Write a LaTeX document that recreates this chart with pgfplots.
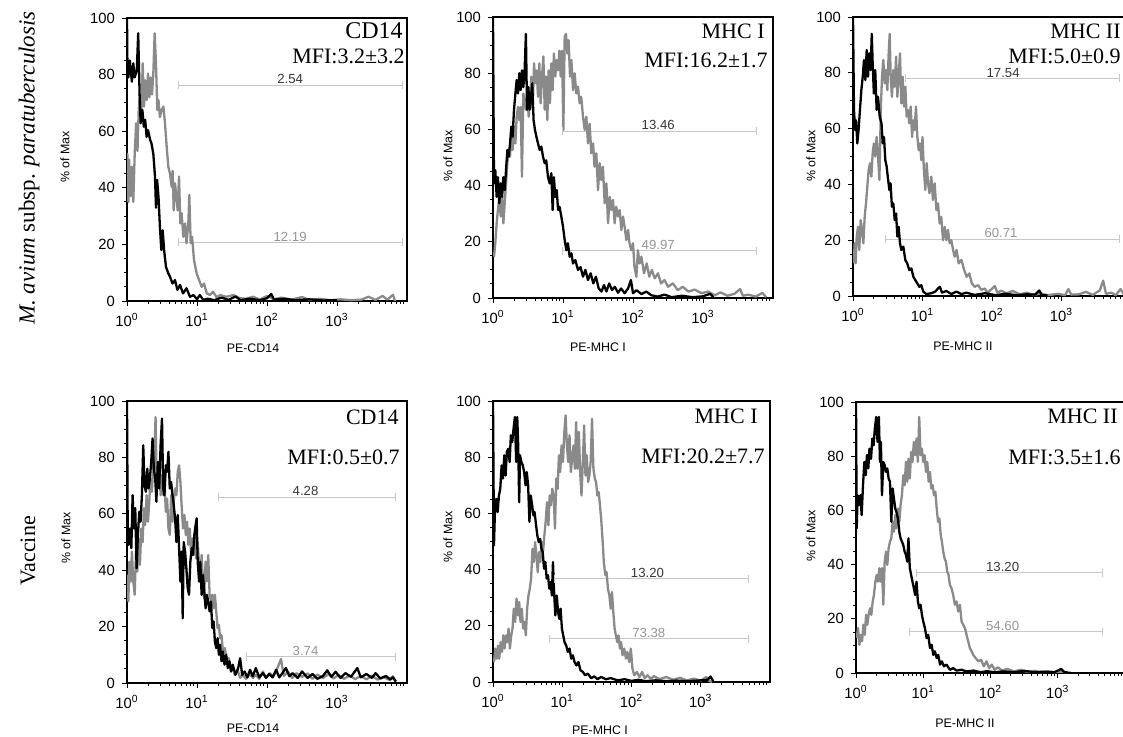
\documentclass[border=0pt]{standalone}
\usepackage{fontspec}
\setmainfont{Liberation Serif}
\newfontfamily\arial{Liberation Sans}
\usepackage{pgfplots}
\usepackage{pgfplotstable}
\pgfplotsset{compat=1.18}

\definecolor{histgray}{RGB}{138,138,138}
\definecolor{gatecol}{RGB}{200,200,200}
\definecolor{gatedark}{RGB}{55,55,55}
\definecolor{gatelight}{RGB}{150,150,150}

\newcommand{\ttl}{\fontsize{11}{13}\selectfont}
\newcommand{\axf}{\arial\fontsize{6.2}{7}\selectfont}
\newcommand{\gatef}{\arial\fontsize{6.6}{7}\selectfont}
\newcommand{\tickf}{\arial\fontsize{7.4}{8}\selectfont}

% common look of the six histograms
\pgfplotsset{
  scale only axis,
  xmin=1, xmax=10000,
  ymin=0, ymax=100,
  xtick={1,10,100,1000},
  xticklabels={10\textsuperscript{0},10\textsuperscript{1},10\textsuperscript{2},10\textsuperscript{3}},
  minor xtick={2,3,4,5,6,7,8,9,20,30,40,50,60,70,80,90,200,300,400,500,600,700,800,900,2000,3000,4000,5000,6000,7000,8000,9000},
  ytick={0,20,40,60,80,100},
  minor ytick={5,10,15,25,30,35,45,50,55,65,70,75,85,90,95},
  tick pos=left, tick align=outside,
  major tick length=2.5pt, minor tick length=1.5pt,
  tick style={black, line width=0.5pt},
  axis line style={line width=0.6pt},
  tick label style={font=\tickf},
  yticklabel style={/pgf/number format/assume math mode=true},
}
\tikzset{
  kcurve/.style={black, line width=1.15pt, line join=round},
  gcurve/.style={histgray, line width=1.15pt, line join=round},
  gate/.style={gatecol, line width=0.4pt, mark=|, mark size=2pt, mark options={gatecol, line width=0.4pt}},
}

% M. avium paratb, CD14
\pgfplotstableread{
d v
0 100
0.005 86
0.02 79
0.04 85
0.07 77.5
0.09 84
0.11 79
0.14 81.6
0.16 94.6
0.18 73
0.195 62.8
0.22 67.5
0.24 61.6
0.26 64
0.28 58
0.30 60.4
0.33 57
0.35 55.7
0.376 52
0.40 44
0.414 33
0.43 42.8
0.45 36.9
0.47 26.3
0.49 18
0.51 25
0.53 18
0.557 12
0.59 9.8
0.614 8.6
0.65 6.2
0.686 7.4
0.72 3.9
0.757 5.7
0.80 2.7
0.85 4.5
0.90 1.5
0.95 2.1
1.0 0.6
1.04 2.1
1.09 0.4
1.15 0.8
1.25 0.3
1.35 1.2
1.45 0.4
1.55 1.6
1.62 0.3
1.75 0.8
1.9 0.3
2.0 1.0
2.06 2.5
2.1 0.5
2.25 0.8
2.4 0.3
2.6 0.6
2.8 0.2
3.0 0.3
}\mapCDk
\pgfplotstableread{
d v
0 44
0.005 52
0.02 35
0.03 50
0.05 37
0.07 47.5
0.09 35
0.11 52
0.13 62.8
0.15 53
0.167 67.5
0.186 73
0.205 65
0.224 84
0.243 68.7
0.26 78
0.28 71
0.30 80.4
0.32 72
0.338 79
0.357 73
0.376 80.4
0.395 94.6
0.414 84
0.433 67.5
0.45 71
0.47 65
0.495 67.5
0.52 68.7
0.543 62.8
0.567 54.5
0.59 47.5
0.614 45
0.638 40.4
0.652 46
0.667 32
0.686 41.6
0.705 37
0.724 32
0.743 44
0.762 27.4
0.78 31
0.805 22.7
0.83 27.4
0.85 20.4
0.876 27.4
0.89 37.5
0.91 20.4
0.93 22.7
0.957 14.5
0.995 9.8
1.03 7.4
1.067 5
1.10 6.2
1.14 2.7
1.186 2.1
1.23 3.3
1.28 1.3
1.33 2.1
1.42 1.5
1.52 2.1
1.61 1
1.7 0.8
1.8 1.5
1.9 0.5
2.0 1.8
2.1 0.6
2.2 1.2
2.35 0.5
2.5 1.4
2.6 0.4
2.75 0.8
2.9 0.3
3.05 0.6
3.2 0.3
3.35 0.5
3.45 1.5
3.55 0.4
3.65 1.8
3.72 0.5
3.8 2.2
3.83 0
}\mapCDg

% M. avium paratb, MHC I
\pgfplotstableread{
d v
0 100
0.014 40.8
0.033 45.5
0.052 36
0.07 43
0.09 33.7
0.11 40.8
0.13 36
0.148 43
0.167 38.4
0.186 45.5
0.205 52.7
0.224 50.3
0.243 55
0.262 61
0.28 57.4
0.30 67
0.32 72.8
0.338 77.6
0.357 72.8
0.376 80
0.395 74
0.414 81
0.433 75
0.45 80
0.47 94
0.486 67
0.505 75
0.524 67
0.543 71.6
0.56 76.4
0.58 63.3
0.60 59.8
0.62 57.4
0.643 55
0.667 52.7
0.69 53.9
0.714 50.3
0.738 48
0.76 49
0.786 43
0.81 40.8
0.833 44.4
0.852 31.3
0.87 43
0.89 36
0.91 38.4
0.93 31.3
0.95 32.5
0.976 29
1.0 25.4
1.024 20.6
1.048 17
1.07 19.5
1.095 14.7
1.12 15.9
1.143 12.3
1.176 13.5
1.214 10
1.25 11
1.286 7.6
1.32 10
1.357 6.4
1.395 8.8
1.433 5.2
1.47 7.6
1.51 3.4
1.55 2.3
1.586 4.6
1.62 2.3
1.66 5.2
1.70 2.8
1.74 4
1.786 1.9
1.83 3.4
1.88 1.7
1.93 3.4
1.97 6.4
2.0 1.7
2.05 2.8
2.12 1.4
2.19 2.3
2.26 1
2.35 0.5
2.45 1.2
2.55 0.3
2.7 0.8
2.85 0.3
3.0 0.6
3.1 1.5
3.15 0.2
}\mapMHCIk
\pgfplotstableread{
d v
0.014 14.7
0.033 19.5
0.052 26.6
0.07 31.3
0.09 36
0.11 29
0.13 36
0.148 26.6
0.167 33.7
0.186 40.8
0.205 48
0.224 52.7
0.243 50.3
0.262 57.4
0.28 52.7
0.30 61
0.32 55
0.338 64.5
0.357 68
0.376 63.3
0.395 68
0.414 43.2
0.433 72.8
0.45 70.5
0.47 67
0.49 71.6
0.51 64.5
0.53 70.5
0.548 78.8
0.567 67
0.586 83.5
0.605 76.4
0.624 81
0.643 71.6
0.662 83.5
0.68 69.3
0.70 78.8
0.72 86
0.738 67
0.757 78.8
0.776 63.3
0.795 81
0.814 69.3
0.833 83.5
0.852 74
0.87 87
0.89 78.8
0.91 84.7
0.93 81
0.948 88
0.967 78.8
0.986 88
1.005 59.8
1.024 93
1.043 94
1.062 87
1.08 91.8
1.10 78.8
1.12 84.7
1.143 74
1.167 80
1.19 72.8
1.214 75.2
1.238 69.3
1.26 71.6
1.286 64.5
1.31 59.8
1.333 64.5
1.357 55
1.38 62
1.405 51.5
1.43 55
1.45 46.7
1.476 51.5
1.50 38.4
1.524 48
1.548 42
1.57 46.7
1.595 33.7
1.62 40.8
1.643 26.6
1.667 36
1.69 31.3
1.714 34.9
1.738 26.6
1.76 32.5
1.786 29
1.81 31.3
1.833 24.2
1.857 29
1.88 25.4
1.905 20.6
1.93 24.2
1.95 19.5
1.976 17
2.0 19.5
2.02 11.2
2.048 7.6
2.07 17
2.095 12.3
2.12 14.7
2.157 8.8
2.195 12.3
2.233 7.6
2.27 10
2.31 7
2.357 8.8
2.40 5.2
2.45 6.4
2.50 4
2.57 5.2
2.64 2.8
2.71 4
2.79 2.3
2.88 3
2.98 1.7
3.07 2.3
3.17 1
3.25 2
3.35 0.8
3.45 1.5
3.53 3.2
3.57 0.8
3.65 1.2
3.75 0.5
3.85 1.8
3.9 0.3
}\mapMHCIg

% M. avium paratb, MHC II
\pgfplotstableread{
d v
0 100
0.014 66.7
0.03 59.5
0.043 63
0.062 54.7
0.08 59.5
0.10 66.7
0.12 73.8
0.14 78.6
0.158 84.6
0.177 77.4
0.197 88.2
0.216 78.6
0.235 87
0.254 81
0.27 94
0.283 83.4
0.30 72.6
0.32 81
0.34 66.7
0.36 71.4
0.384 64.3
0.41 61.9
0.427 54.7
0.446 57
0.465 48.7
0.484 46.4
0.50 42.8
0.523 38
0.54 40.4
0.56 32
0.58 33.2
0.60 27.2
0.62 29.6
0.638 21.3
0.657 24.8
0.676 18.9
0.695 16.5
0.724 17.7
0.753 12.9
0.78 11.7
0.81 9.3
0.84 9.9
0.868 6.9
0.897 5.7
0.926 4.5
0.954 3.3
0.983 3.9
1.01 1.6
1.055 0.7
1.127 1
1.185 1.6
1.223 2.7
1.25 3.3
1.28 1.2
1.343 1.8
1.415 0.7
1.487 1.6
1.56 0.7
1.63 1.2
1.75 0.4
1.9 1.0
2.05 0.3
2.2 0.8
2.35 0.3
2.5 0.6
2.62 0.5
2.68 2.0
2.72 0.3
2.8 0.2
}\mapMHCIIk
\pgfplotstableread{
d v
0.01 11.7
0.024 18.9
0.038 11.7
0.053 21.3
0.072 24.8
0.09 16.5
0.11 27.2
0.13 23.7
0.149 18.9
0.168 28.4
0.187 33.2
0.206 39.2
0.225 45.2
0.245 47.6
0.264 42.8
0.283 51.1
0.30 54.7
0.32 50
0.34 57
0.36 50
0.38 41.6
0.40 66.7
0.417 78.6
0.436 84.6
0.456 76.2
0.475 81
0.494 73.8
0.513 87
0.528 94
0.542 78.6
0.56 71.4
0.58 81
0.60 75
0.62 85.8
0.638 71.4
0.657 78.6
0.676 87
0.695 69
0.715 78.6
0.734 67.9
0.753 75
0.772 64.3
0.79 66.7
0.81 61.9
0.83 67.9
0.85 57
0.868 63
0.887 59.5
0.906 67.9
0.926 57
0.945 52.3
0.964 54.7
0.983 48.7
1.0 57
1.02 45.2
1.04 38
1.06 47.6
1.08 40.4
1.10 36.8
1.127 42.8
1.15 34.4
1.175 40.4
1.20 30.8
1.223 33.2
1.247 26
1.27 28.4
1.295 20
1.32 24.8
1.343 20
1.367 23.7
1.39 18.9
1.415 20
1.44 16.5
1.463 14.1
1.49 16.5
1.52 11.7
1.56 12.9
1.60 9.3
1.635 6.9
1.674 8.1
1.71 4.5
1.75 3.3
1.80 3.9
1.846 2.2
1.894 2.7
1.94 1.2
1.99 2.4
2.04 3.6
2.077 1.2
2.134 1.9
2.206 1
2.3 1.8
2.4 0.6
2.5 1.2
2.6 0.4
2.7 0.9
2.8 0.3
2.95 0.8
3.05 0.3
3.1 2.5
3.14 0.5
3.25 0.6
3.35 1.5
3.45 0.4
3.55 2.0
3.6 5.5
3.64 0.8
3.72 1.2
3.78 0.3
3.85 2.5
3.9 0.5
3.96 1.2
}\mapMHCIIg

% Vaccine, CD14
\pgfplotstableread{
d v
0 100
0.01 54.8
0.024 49
0.043 54.8
0.062 47.8
0.08 66.6
0.10 54.8
0.118 62
0.137 40.7
0.156 52.5
0.175 60.7
0.194 57.2
0.213 66.6
0.232 84.3
0.25 70.2
0.27 67.8
0.29 76
0.308 69
0.327 72.5
0.346 78.4
0.365 86.7
0.384 76
0.403 72.5
0.42 64.3
0.44 78.4
0.46 69
0.48 84.3
0.50 93.8
0.517 69
0.535 66.6
0.555 77.2
0.573 74.9
0.592 82
0.611 69
0.63 71.3
0.65 66.6
0.668 63
0.687 58.4
0.706 50
0.725 59.6
0.744 47.8
0.763 36
0.78 46.6
0.796 23
0.81 50
0.83 46.6
0.848 40.7
0.867 33.6
0.886 31.3
0.905 43
0.924 47.8
0.943 45.4
0.962 52.5
0.98 56
0.995 58.4
1.01 43
1.03 36
1.047 43
1.066 31.3
1.085 38.3
1.10 33.6
1.123 26.5
1.142 31.3
1.16 28.9
1.18 25.4
1.20 28.9
1.218 19.5
1.237 21.8
1.256 14.7
1.275 12.4
1.294 15.9
1.313 10
1.33 13.6
1.35 7.7
1.37 11.2
1.393 6.5
1.417 10
1.44 5.3
1.464 7.7
1.488 4.1
1.51 6.5
1.55 2.9
1.588 5.3
1.616 8.8
1.645 2.9
1.68 4.1
1.72 2
1.758 4.7
1.796 2.4
1.84 5.3
1.89 2
1.94 3.5
1.986 1.8
2.03 3.2
2.08 2
2.13 4.7
2.175 2
2.22 3.5
2.27 5.3
2.32 2.4
2.365 3.5
2.44 1.8
2.5 4.1
2.58 1.8
2.65 3.2
2.72 1.5
2.8 2.5
2.86 4.5
2.92 2.2
2.98 4
3.05 1.8
3.12 3.5
3.2 2.2
3.29 5.3
3.34 2
3.42 3.2
3.5 1.8
3.55 3.5
3.62 1.6
3.7 2.5
3.76 1.2
3.8 2
3.84 0.5
}\vacCDk
\pgfplotstableread{
d v
0.005 38.3
0.02 29
0.033 43
0.052 36
0.07 46.6
0.09 36
0.11 31.3
0.128 46.6
0.147 39.5
0.166 51.3
0.185 41.9
0.204 54.8
0.223 50
0.242 62
0.26 56
0.28 66.6
0.30 57.2
0.318 64.3
0.336 72.5
0.355 67.8
0.374 76
0.393 83
0.408 94.3
0.42 76
0.44 71.3
0.46 78.4
0.48 66.6
0.50 73.7
0.517 66.6
0.535 71.3
0.555 60.7
0.573 65.4
0.592 54.8
0.611 52.5
0.63 66.6
0.65 57.2
0.668 64.3
0.687 69
0.706 66.6
0.725 74.9
0.744 77.2
0.763 71.3
0.78 63
0.80 54.8
0.82 59.6
0.84 52.5
0.858 57.2
0.877 49
0.896 54.8
0.915 46.6
0.934 51.3
0.953 45.4
0.97 52.5
0.99 44.2
1.01 50
1.03 41.9
1.047 37.1
1.066 45.4
1.085 36
1.10 30
1.123 43
1.142 36
1.16 45.4
1.18 31.3
1.20 29
1.218 31.3
1.237 26.5
1.256 31.3
1.275 25.4
1.294 19.5
1.313 20.6
1.33 15.9
1.35 17
1.37 11.2
1.398 12.4
1.427 7.7
1.455 8.8
1.483 4.1
1.51 5.9
1.54 2.9
1.578 4.7
1.616 1.8
1.654 2.9
1.70 1.5
1.75 3.2
1.80 1.8
1.84 2.9
1.89 1.5
1.94 4.1
1.986 2
2.04 3.5
2.09 2.4
2.13 4.1
2.2 8.5
2.24 2.5
2.3 4
2.36 1.8
2.42 3.5
2.5 2.2
2.58 3.4
2.65 1.5
2.72 3
2.8 1.8
2.88 3.2
2.95 1.6
3.02 2.8
3.1 1.5
3.18 2.6
3.26 1.4
3.34 2.5
3.42 1.3
3.5 2.6
3.58 1.2
3.66 2.2
3.74 1.2
3.8 2.4
3.84 0.5
}\vacCDg

% Vaccine, MHC I
\pgfplotstableread{
d v
0 100
0.014 48.6
0.03 62.9
0.048 65.2
0.067 60.5
0.086 66.4
0.105 68.8
0.124 77.1
0.144 72.4
0.163 80.7
0.182 73.5
0.20 81.9
0.22 83
0.24 78.3
0.258 87.8
0.278 85.4
0.297 90.2
0.316 94.3
0.335 78.3
0.35 94.3
0.364 84.2
0.378 64
0.39 80.7
0.41 78.3
0.43 77.1
0.45 74.7
0.47 70
0.488 74.7
0.507 70
0.526 57
0.545 66.4
0.565 62.9
0.584 59.3
0.60 60.5
0.622 55.8
0.64 52.2
0.66 49.8
0.68 51
0.70 47.4
0.718 46.3
0.737 40.3
0.756 42.7
0.775 36.8
0.794 38
0.813 33.2
0.832 35.6
0.85 30.8
0.866 42.7
0.88 33.2
0.90 23.7
0.92 30.8
0.94 24.9
0.957 22.5
0.976 26.1
0.995 19
1.014 16.6
1.033 14.2
1.057 13
1.08 10.7
1.105 11.9
1.13 8.3
1.153 9.5
1.177 7.1
1.206 5.9
1.234 7.1
1.263 4.2
1.297 3.6
1.33 2.4
1.37 3
1.416 1.4
1.464 2
1.51 1
1.56 1.8
1.63 1
1.70 1.4
1.8 0.6
1.9 1.0
2.0 0.4
2.1 0.8
2.2 0.3
2.35 0.6
2.5 0.3
2.65 0.5
2.8 0.3
2.95 0.5
3.1 0.8
3.14 2.0
3.18 0.3
}\vacMHCIk
\pgfplotstableread{
d v
0.014 7.1
0.033 11.9
0.053 8.3
0.072 13
0.09 8.3
0.11 14.2
0.13 10.7
0.148 16.6
0.167 11.9
0.187 16.6
0.206 14.2
0.225 19
0.244 11.9
0.263 16.6
0.282 19
0.30 26.1
0.32 21.4
0.34 29.7
0.36 23.7
0.378 28.5
0.397 21.4
0.416 26.1
0.435 19
0.455 21.4
0.474 16.6
0.493 26.1
0.512 30.8
0.531 33.2
0.55 36.8
0.57 47.4
0.589 42.7
0.608 49.8
0.627 45
0.646 39.1
0.665 46.3
0.684 42.7
0.703 49.8
0.722 46.3
0.742 52.2
0.76 57
0.78 64
0.80 55.8
0.818 66.4
0.837 62.9
0.856 68.8
0.876 66.4
0.895 54.6
0.914 72.4
0.933 68.8
0.952 80.7
0.97 74.7
0.99 84.2
1.01 78.3
1.03 89
1.048 94.9
1.067 84.2
1.086 78.3
1.105 87.8
1.124 74.7
1.143 79.5
1.163 84.2
1.182 75.9
1.20 92.5
1.22 75.9
1.24 89
1.258 74.7
1.278 66.4
1.297 78.3
1.316 91.3
1.335 73.5
1.354 80.7
1.373 71.2
1.392 73.5
1.41 78.3
1.43 93.7
1.45 75.9
1.47 72.4
1.488 71.2
1.507 66.4
1.526 67.6
1.545 62.9
1.565 57
1.584 49.8
1.60 42.7
1.622 38
1.64 39.1
1.66 33.2
1.68 30.8
1.70 26.1
1.718 32
1.737 24.9
1.756 19
1.775 16.6
1.794 14.2
1.813 16.6
1.833 11.9
1.85 14.2
1.87 9.5
1.895 11.9
1.92 8.3
1.94 10.7
1.967 7.1
1.99 11.9
2.014 4.7
2.04 2.4
2.077 3.6
2.115 1.8
2.153 3.6
2.19 1.4
2.23 2.4
2.277 1.2
2.325 2.1
2.4 1.0
2.5 1.8
2.6 0.8
2.7 1.5
2.8 0.6
2.9 1.2
3.0 0.5
3.08 1.8
3.12 0.4
3.16 0
}\vacMHCIg

% Vaccine, MHC II
\pgfplotstableread{
d v
0 100
0.01 53.4
0.025 65.6
0.045 62
0.064 65.6
0.084 58.3
0.104 69.3
0.124 77.9
0.144 73
0.163 80.4
0.183 75.5
0.20 82.8
0.223 79
0.243 86.5
0.262 84
0.28 90.2
0.30 94.5
0.32 85.3
0.34 94.5
0.356 77.9
0.37 85.3
0.386 65.6
0.406 77.9
0.426 76.7
0.446 74.2
0.465 75.5
0.485 71.8
0.505 70.6
0.525 55.8
0.545 68.1
0.564 64.4
0.584 60.7
0.60 59.5
0.624 57
0.644 52.1
0.663 49.7
0.683 48.5
0.703 47.2
0.723 44.8
0.743 43.6
0.762 41.1
0.78 49.7
0.80 38.7
0.82 36.2
0.84 33.7
0.86 31.3
0.88 28.8
0.90 33.7
0.92 26.4
0.94 23.9
0.96 25.2
0.98 21.5
1.0 19
1.025 16.6
1.05 12.9
1.074 14.1
1.10 9.2
1.124 10.4
1.15 6.7
1.173 8
1.20 5.5
1.223 6.7
1.25 3.1
1.277 4.3
1.307 2.5
1.346 3.1
1.396 1.2
1.445 1.8
1.495 0.9
1.57 1.2
1.644 0.6
1.75 0.9
1.85 0.3
1.95 0.7
2.05 0.3
2.2 0.6
2.35 0.3
2.5 0.8
2.65 0.3
2.8 0.5
2.95 0.3
3.05 1.5
3.1 0.3
3.2 0
}\vacMHCIIk
\pgfplotstableread{
d v
0.01 12.9
0.03 16.6
0.05 10.4
0.07 14.1
0.09 11.7
0.11 17.8
0.13 14.1
0.15 21.5
0.168 17.8
0.188 21.5
0.208 23.9
0.228 21.5
0.248 26.4
0.267 28.8
0.287 33.7
0.307 36.2
0.327 33.7
0.347 38.7
0.366 33.7
0.386 38.7
0.406 25.2
0.426 41.1
0.446 44.8
0.465 39.9
0.485 46
0.505 48.5
0.525 49.7
0.545 55.8
0.564 52.1
0.584 58.3
0.60 53.4
0.624 60.7
0.644 55.8
0.663 62
0.683 65.6
0.703 73
0.723 69.3
0.743 77.9
0.762 70.6
0.78 79
0.80 71.8
0.82 81.6
0.84 77.9
0.86 85.3
0.88 80.4
0.90 86.5
0.92 77.9
0.94 94.5
0.96 80.4
0.98 82.8
1.0 77.9
1.02 80.4
1.04 74.2
1.06 77.9
1.08 70.6
1.10 74.2
1.12 68.1
1.14 69.3
1.16 65.6
1.18 66.9
1.20 60.7
1.22 55.8
1.24 57
1.26 50.9
1.277 48.5
1.297 44.8
1.317 42.3
1.337 41.1
1.356 37.4
1.376 36.2
1.396 32.5
1.42 31.3
1.445 28.8
1.47 25.2
1.495 26.4
1.52 22.7
1.545 25.2
1.57 19
1.594 17.8
1.62 16.6
1.644 14.1
1.668 11.7
1.693 9.2
1.72 8
1.743 6.7
1.78 5.5
1.82 4.3
1.86 4.9
1.90 2.5
1.94 4.3
1.98 1.8
2.02 3.1
2.06 1.2
2.11 2.1
2.17 0.9
2.25 1.5
2.35 0.6
2.45 1.2
2.55 0.4
2.65 0.8
2.75 0.3
2.85 0.6
2.95 0.3
3.05 0.5
3.15 0.2
}\vacMHCIIg

\begin{document}
\begin{tikzpicture}

% ---------- top row: M. avium subsp. paratuberculosis ----------
\begin{axis}[xmode=log, anchor=south west, at={(63.5pt,-150.5pt)}, width=140pt, height=141.5pt]
\addplot[gate] coordinates {(5.37,76.3) (8511,76.3)};
\addplot[gate] coordinates {(5.37,20.8) (8511,20.8)};
\addplot[gcurve] table[x expr=10^\thisrow{d}, y=v] {\mapCDg};
\addplot[kcurve] table[x expr=10^\thisrow{d}, y=v] {\mapCDk};
\node[anchor=base, inner sep=0, text=gatedark, font=\gatef] at (axis cs:213.8,76.7) {2.54};
\node[anchor=base, inner sep=0, text=gatelight, font=\gatef] at (axis cs:213.8,21.2) {12.19};
\end{axis}

\begin{axis}[xmode=log, anchor=south west, at={(246.5pt,-149pt)}, width=140pt, height=140.5pt]
\addplot[gate] coordinates {(9.77,59.4) (5754,59.4)};
\addplot[gate] coordinates {(9.77,16.8) (5754,16.8)};
\addplot[gcurve] table[x expr=10^\thisrow{d}, y=v] {\mapMHCIg};
\addplot[kcurve] table[x expr=10^\thisrow{d}, y=v] {\mapMHCIk};
\node[anchor=base, inner sep=0, text=gatedark, font=\gatef] at (axis cs:229,59.8) {13.46};
\node[anchor=base, inner sep=0, text=gatelight, font=\gatef] at (axis cs:229,17.2) {49.97};
\end{axis}

\begin{axis}[xmode=log, anchor=south west, at={(426.5pt,-148pt)}, width=139pt, height=139.5pt]
\addplot[gate] coordinates {(5.75,78) (6918,78)};
\addplot[gate] coordinates {(2.95,20.4) (6918,20.4)};
\addplot[gcurve] table[x expr=10^\thisrow{d}, y=v] {\mapMHCIIg};
\addplot[kcurve] table[x expr=10^\thisrow{d}, y=v] {\mapMHCIIk};
\node[anchor=base, inner sep=0, text=gatedark, font=\gatef] at (axis cs:144.5,78.3) {17.54};
\node[anchor=base, inner sep=0, text=gatelight, font=\gatef] at (axis cs:134.9,20.8) {60.71};
\end{axis}

% ---------- bottom row: Vaccine ----------
\begin{axis}[xmode=log, anchor=south west, at={(63.5pt,-341.5pt)}, width=140pt, height=141pt]
\addplot[gate] coordinates {(20.4,66) (6918,66)};
\addplot[gate] coordinates {(50.1,9.4) (6918,9.4)};
\addplot[gcurve] table[x expr=10^\thisrow{d}, y=v] {\vacCDg};
\addplot[kcurve] table[x expr=10^\thisrow{d}, y=v] {\vacCDk};
\node[anchor=base, inner sep=0, text=gatedark, font=\gatef] at (axis cs:354.8,66.4) {4.28};
\node[anchor=base, inner sep=0, text=gatelight, font=\gatef] at (axis cs:354.8,9.8) {3.74};
\end{axis}

\begin{axis}[xmode=log, anchor=south west, at={(246.5pt,-341pt)}, width=138.5pt, height=140.5pt]
\addplot[gate] coordinates {(7.76,36.8) (4898,36.8)};
\addplot[gate] coordinates {(6.46,15.4) (4898,15.4)};
\addplot[gcurve] table[x expr=10^\thisrow{d}, y=v] {\vacMHCIg};
\addplot[kcurve] table[x expr=10^\thisrow{d}, y=v] {\vacMHCIk};
\node[anchor=base, inner sep=0, text=gatedark, font=\gatef] at (axis cs:169.8,37.2) {13.20};
\node[anchor=base, inner sep=0, text=gatelight, font=\gatef] at (axis cs:177.8,15.8) {73.38};
\end{axis}

\begin{axis}[xmode=log, anchor=south west, at={(428pt,-336.5pt)}, width=134.5pt, height=135.5pt]
\addplot[gate] coordinates {(7.94,37) (4677,37)};
\addplot[gate] coordinates {(6.17,15.3) (4677,15.3)};
\addplot[gcurve] table[x expr=10^\thisrow{d}, y=v] {\vacMHCIIg};
\addplot[kcurve] table[x expr=10^\thisrow{d}, y=v] {\vacMHCIIk};
\node[anchor=base, inner sep=0, text=gatedark, font=\gatef] at (axis cs:151.4,37.4) {13.20};
\node[anchor=base, inner sep=0, text=gatelight, font=\gatef] at (axis cs:151.4,15.7) {54.60};
\end{axis}

% ---------- text, placed in pixel units of the reference ----------
\begin{scope}[x=0.5pt, y=-0.5pt]
\node[anchor=base east, inner sep=0] at (403,38) {\fontsize{12}{14}\selectfont CD14};
\node[anchor=base east, inner sep=0] at (405,63.5) {\ttl MFI:3.2±3.2};
\node[anchor=base east, inner sep=0] at (765,38) {\ttl MHC I};
\node[anchor=base east, inner sep=0] at (768,67.5) {\ttl MFI:16.2±1.7};
\node[anchor=base east, inner sep=0] at (1121,38) {\ttl MHC II};
\node[anchor=base east, inner sep=0] at (1121,63.5) {\ttl MFI:5.0±0.9};
\node[anchor=base east, inner sep=0] at (399,424) {\ttl CD14};
\node[anchor=base east, inner sep=0] at (400,464) {\ttl MFI:0.5±0.7};
\node[anchor=base east, inner sep=0] at (758,423) {\ttl MHC I};
\node[anchor=base east, inner sep=0] at (765,463) {\ttl MFI:20.2±7.7};
\node[anchor=base east, inner sep=0] at (1118,423) {\ttl MHC II};
\node[anchor=base east, inner sep=0] at (1121,464) {\ttl MFI:3.5±1.6};

\node[rotate=90, inner sep=0] at (29,168) {\fontsize{11.5}{13}\selectfont\textit{M. avium} subsp. \textit{paratuberculosis}};
\node[rotate=90, inner sep=0] at (28,551) {\fontsize{11}{13}\selectfont Vaccine};

\node[rotate=90, inner sep=0] at (65,157) {\axf\% of Max};
\node[rotate=90, inner sep=0] at (448,156) {\axf\% of Max};
\node[rotate=90, inner sep=0] at (811,156) {\axf\% of Max};
\node[rotate=90, inner sep=0] at (66,538) {\axf\% of Max};
\node[rotate=90, inner sep=0] at (448,537) {\axf\% of Max};
\node[rotate=90, inner sep=0] at (811,536) {\axf\% of Max};

\node[inner sep=0] at (253,348) {\axf PE-CD14};
\node[inner sep=0] at (598,347) {\axf PE-MHC I};
\node[inner sep=0] at (963,346) {\axf PE-MHC II};
\node[inner sep=0] at (253,728) {\axf PE-CD14};
\node[inner sep=0] at (600,730) {\axf PE-MHC I};
\node[inner sep=0] at (965,723) {\axf PE-MHC II};
\end{scope}

\pgfresetboundingbox
\path[use as bounding box] (0pt,0pt) rectangle (561.5pt,-368pt);
\end{tikzpicture}
\end{document}
